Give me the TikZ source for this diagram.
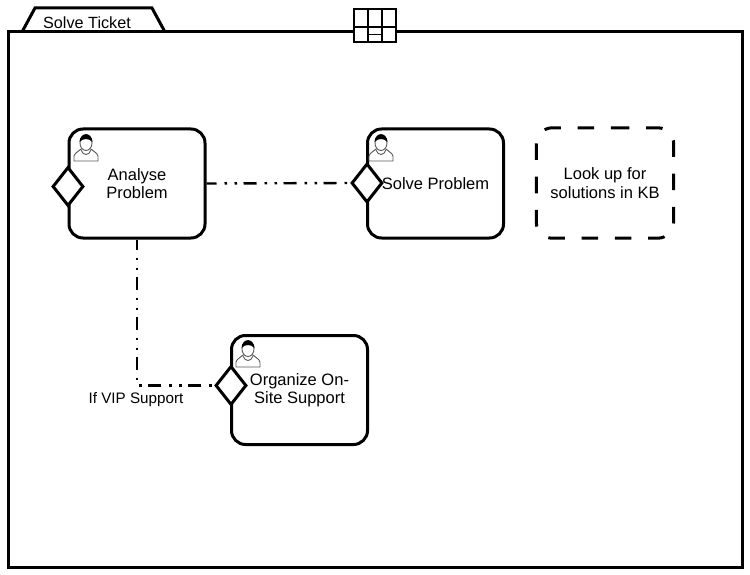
\documentclass[tikz,border=0pt]{standalone}
\usepackage{fontspec}
\setmainfont{Liberation Sans}
\usetikzlibrary{shapes.geometric}
\tikzset{
	task/.style={draw, line width=3pt, rounded corners=14pt, minimum width=136pt, minimum height=109pt, inner sep=0pt, align=center, font=\fontsize{16.5}{18.5}\selectfont},
	note/.style={line width=3pt, rounded corners=16pt, dash pattern=on 16.6pt off 16.7pt, dash phase=8.3pt},
	gate/.style={draw, diamond, fill=white, line width=3pt, minimum width=31pt, minimum height=39pt, inner sep=0pt},
	flow/.style={draw, line width=2.4pt, dash pattern=on 13pt off 8pt on 2.5pt off 7.5pt on 2.5pt off 6.5pt, dash phase=3pt},
	person/.pic={
		\path[draw=black!65, fill=white, line width=0.9pt] (-12,13) -- (-12,8) .. controls (-11,4) and (-7,4) .. (-5,1) -- (5,1) .. controls (7,4) and (11,4) .. (12,8) -- (12,13) -- cycle;
		\path[draw=black!65, line width=0.9pt] (-5,2) .. controls (-3,8) and (3,8) .. (5,2);
		\path[draw=black!65, fill=white, line width=0.9pt] (0,-5) ellipse (6pt and 7.5pt);
		\path[fill=black] (-6.5,-6) .. controls (-6,-16.5) and (6,-16.5) .. (6.5,-6) .. controls (3,-10) and (-3,-10) .. (-6.5,-6) -- cycle;
	}
}
\begin{document}
\begin{tikzpicture}[x=1pt,y=-1pt]
	\useasboundingbox[fill=white] (0,0) rectangle (750,575);
	\path[draw,line width=3pt,fill=white] (22,32) -- (35,8) -- (152,8) -- (165,32);
	\node[font=\fontsize{16.2}{18.5}\selectfont] (title) at (87,23) {Solve Ticket};
	\node[draw, line width=3pt, minimum width=734pt, minimum height=535pt, inner sep=0pt] (frame) at (375,299.5) {};

	\node[draw, fill=white, line width=2pt, minimum width=42pt, minimum height=33pt, inner sep=0pt] (grid) at (375,26) {};
	\path[draw,line width=1.8pt] (grid.north) ++(-7,0) -- ++(0,33);
	\path[draw,line width=1.8pt] (grid.north) ++(7,0) -- ++(0,33);
	\path[draw,line width=1.8pt] (grid.west) ++(0,1) -- ++(42,0);
	\path[draw,line width=1.8pt] (368,34.5) -- (382,34.5);

	\node[task] (analyse) at (137,183.5) {Analyse\\Problem};
	\node[task] (solve) at (435.5,183.5) {Solve Problem};
	\node[minimum width=137pt, minimum height=110pt, inner sep=0pt, align=center, font=\fontsize{16.5}{18.5}\selectfont] (lookup) at (605,183) {Look up for\\solutions in KB};
	\node[task] (organize) at (299.5,390) {Organize On-\\Site Support};
	\path[draw,note] (lookup.north) -- (lookup.north east) -- (lookup.south east) -- (lookup.south west) -- (lookup.north west) -- cycle;

	\pic at (86,148) {person};
	\pic at (381,148) {person};
	\pic at (248,354) {person};

	\node[gate] (gate1) at (68,186.5) {};
	\node[gate] (gate2) at (367,183) {};
	\node[gate] (gate3) at (231,385.5) {};

	\path[flow] (analyse.east) -- (gate2.west);
	\path[flow] (analyse.south) |- (gate3.west);
	\node[font=\fontsize{15.2}{17}\selectfont] (vip) at (136,399.5) {If VIP Support};
\end{tikzpicture}
\end{document}
